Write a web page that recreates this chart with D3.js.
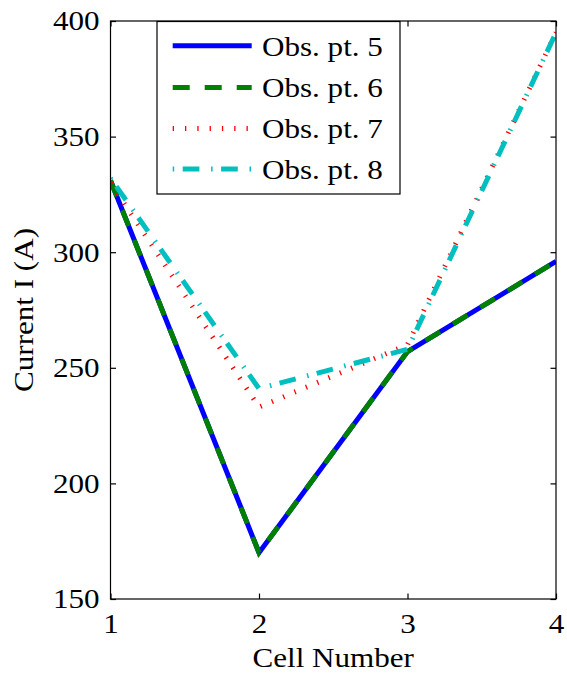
<!DOCTYPE html>
<html>
<head>
<meta charset="utf-8">
<script src="https://cdn.jsdelivr.net/npm/d3@7"></script>
<style>
  html, body { margin: 0; padding: 0; background: #fff; }
</style>
</head>
<body>
<svg id="chart" width="567" height="679"></svg>
<script>
// Cell numbers along the x axis
const cells = [1, 2, 3, 4];
// Current (A) at each observation point
const obs5 = [331, 170, 257, 296];
const obs6 = [331, 170, 257, 296];
const obs7 = [330, 233, 260, 395];
const obs8 = [332, 241, 258, 395];
const seriesNames = ["Obs. pt. 5", "Obs. pt. 6", "Obs. pt. 7", "Obs. pt. 8"];
const xTicks = [1, 2, 3, 4];
const yTicks = [150, 200, 250, 300, 350, 400];

(function draw() {
  const FONT = "'Liberation Serif', 'Times New Roman', Times, 'DejaVu Serif', serif";
  const svg = d3.select("#chart").style("font-family", FONT);
  const margin = { left: 110.5, right: 11, top: 21, bottom: 80 };
  const W = 567, H = 679;
  const x = d3.scaleLinear().domain([1, 4]).range([margin.left, W - margin.right]);
  const y = d3.scaleLinear().domain([150, 400]).range([H - margin.bottom, margin.top]);
  const fs = 28;
  const widen = 1.11; // Times glyphs here run a little wider than Liberation Serif

  const styles = [
    { color: "#0000ff", width: 5, dash: null },
    { color: "#008000", width: 5, dash: "17,15" },
    { color: "#ff0000", width: 5, dash: "1.3,11" },
    { color: "#00bfbf", width: 5, dash: "1.5,8.5,16.7,11.7" }
  ];
  const series = [obs5, obs6, obs7, obs8];

  // clip lines to the axes box
  svg.append("clipPath").attr("id", "plotClip")
    .append("rect")
    .attr("x", x(1)).attr("y", y(400))
    .attr("width", x(4) - x(1)).attr("height", y(150) - y(400));

  const line = d3.line().x((d, i) => x(cells[i])).y(d => y(d));
  const gLines = svg.append("g").attr("clip-path", "url(#plotClip)");
  series.forEach((s, k) => {
    gLines.append("path")
      .datum(s)
      .attr("d", line)
      .attr("fill", "none")
      .attr("stroke", styles[k].color)
      .attr("stroke-width", styles[k].width)
      .attr("stroke-dasharray", styles[k].dash)
      .attr("stroke-linejoin", "miter");
  });

  // axes box with inward ticks on all four sides
  const tickLen = 5.5;
  const gAx = svg.append("g");
  gAx.append("rect")
    .attr("x", x(1)).attr("y", y(400))
    .attr("width", x(4) - x(1)).attr("height", y(150) - y(400))
    .attr("fill", "none").attr("stroke", "#000").attr("stroke-width", 1.2);

  const axB = d3.axisBottom(x).tickValues(xTicks).tickSizeInner(-tickLen).tickSizeOuter(0).tickPadding(14).tickFormat(d3.format("d"));
  const axT = d3.axisTop(x).tickValues(xTicks).tickSizeInner(-tickLen).tickSizeOuter(0).tickFormat("");
  const axL = d3.axisLeft(y).tickValues(yTicks).tickSizeInner(-tickLen).tickSizeOuter(0).tickPadding(11).tickFormat(d3.format("d"));
  const axR = d3.axisRight(y).tickValues(yTicks).tickSizeInner(-tickLen).tickSizeOuter(0).tickFormat("");

  function styleAxis(g) {
    g.attr("font-family", null).attr("font-size", null);
    g.select(".domain").remove();
    g.selectAll(".tick line").attr("stroke", "#000").attr("stroke-width", 1.2);
    g.selectAll(".tick text").style("font-family", FONT).attr("font-size", fs).attr("fill", "#000");
  }
  gAx.append("g").attr("transform", `translate(0,${y(150)})`).call(axB).call(styleAxis);
  gAx.append("g").attr("transform", `translate(0,${y(400)})`).call(axT).call(styleAxis);
  gAx.append("g").attr("transform", `translate(${x(1)},0)`).call(axL).call(styleAxis);
  gAx.append("g").attr("transform", `translate(${x(4)},0)`).call(axR).call(styleAxis);

  // axis titles
  svg.append("text")
    .attr("x", (x(1) + x(4)) / 2).attr("y", 667)
    .attr("text-anchor", "middle").attr("font-size", fs)
    .style("font-family", FONT)
    .text("Cell Number");
  svg.append("text")
    .attr("transform", `translate(33,${(y(150) + y(400)) / 2}) rotate(-90)`)
    .attr("text-anchor", "middle").attr("font-size", fs)
    .style("font-family", FONT)
    .text("Current I (A)");

  // legend
  const lg = svg.append("g");
  const box = { x0: 157, y0: 21.5, x1: 400, y1: 194 };
  lg.append("rect")
    .attr("x", box.x0).attr("y", box.y0)
    .attr("width", box.x1 - box.x0).attr("height", box.y1 - box.y0)
    .attr("fill", "#fff").attr("stroke", "#000").attr("stroke-width", 1.2);
  const rowY = [45.7, 87.5, 128.5, 169];
  seriesNames.forEach((name, k) => {
    lg.append("line")
      .attr("x1", 172.7).attr("x2", 251.7)
      .attr("y1", rowY[k]).attr("y2", rowY[k])
      .attr("stroke", styles[k].color)
      .attr("stroke-width", styles[k].width)
      .attr("stroke-dasharray", styles[k].dash);
    lg.append("text")
      .attr("x", 262).attr("y", rowY[k]).attr("dy", "0.35em")
      .attr("font-size", fs)
      .style("font-family", FONT)
      .text(name);
  });

  // stretch every label along its run to the wider Times set width
  svg.selectAll("text").each(function () {
    const len = this.getComputedTextLength();
    if (len > 0) {
      d3.select(this)
        .attr("textLength", len * widen)
        .attr("lengthAdjust", "spacingAndGlyphs");
    }
  });
})();
</script>
</body>
</html>
